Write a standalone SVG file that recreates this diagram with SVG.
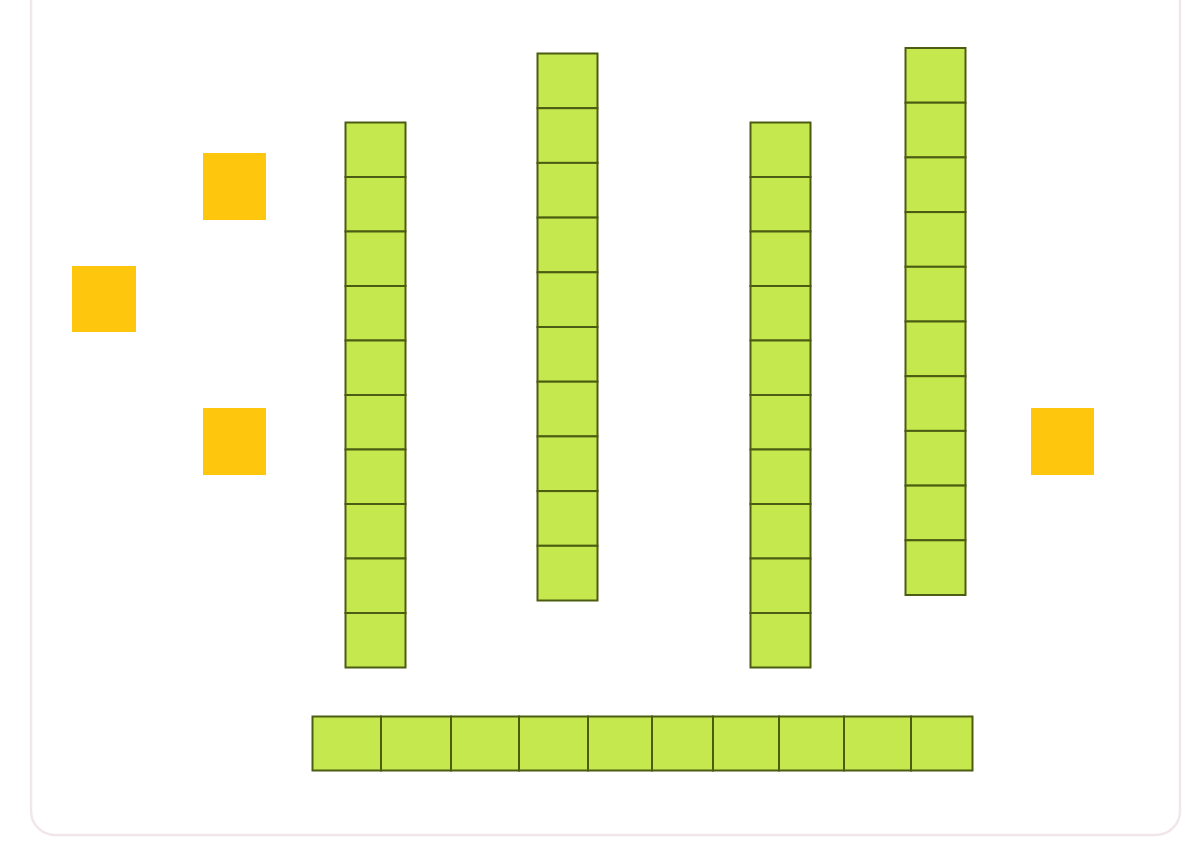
<svg xmlns="http://www.w3.org/2000/svg" width="1203" height="842" viewBox="0 0 1203 842">
<style>
.bg{fill:#ffffff;}
.frame{fill:#ffffff;stroke:#f1e6ec;stroke-width:2.5;}
.g rect{fill:#c6e84f;stroke:#4c5c12;stroke-width:2;}
.u{fill:#fec70d;}
</style>
<rect class="bg" x="0" y="0" width="1203" height="842"/>
<rect class="frame" x="31" y="-24" width="1149" height="859" rx="24"/>
<g id="unit-top" ><rect class="u" x="203" y="153" width="63" height="67"/></g>
<g id="unit-left"><rect class="u" x="72" y="266" width="64" height="66"/></g>
<g id="unit-lower"><rect class="u" x="203" y="408" width="63" height="67"/></g>
<g id="unit-right"><rect class="u" x="1031" y="408" width="63" height="67"/></g>
<g id="rod-1" class="g">
<rect x="345.5" y="122.5" width="60" height="54.5"/>
<rect x="345.5" y="177" width="60" height="54.5"/>
<rect x="345.5" y="231.5" width="60" height="54.5"/>
<rect x="345.5" y="286" width="60" height="54.5"/>
<rect x="345.5" y="340.5" width="60" height="54.5"/>
<rect x="345.5" y="395" width="60" height="54.5"/>
<rect x="345.5" y="449.5" width="60" height="54.5"/>
<rect x="345.5" y="504" width="60" height="54.5"/>
<rect x="345.5" y="558.5" width="60" height="54.5"/>
<rect x="345.5" y="613" width="60" height="54.5"/>
</g>
<g id="rod-2" class="g">
<rect x="537.5" y="53.5" width="60" height="54.7"/>
<rect x="537.5" y="108.2" width="60" height="54.7"/>
<rect x="537.5" y="162.9" width="60" height="54.7"/>
<rect x="537.5" y="217.6" width="60" height="54.7"/>
<rect x="537.5" y="272.3" width="60" height="54.7"/>
<rect x="537.5" y="327" width="60" height="54.7"/>
<rect x="537.5" y="381.7" width="60" height="54.7"/>
<rect x="537.5" y="436.4" width="60" height="54.7"/>
<rect x="537.5" y="491.1" width="60" height="54.7"/>
<rect x="537.5" y="545.8" width="60" height="54.7"/>
</g>
<g id="rod-3" class="g">
<rect x="750.5" y="122.5" width="60" height="54.5"/>
<rect x="750.5" y="177" width="60" height="54.5"/>
<rect x="750.5" y="231.5" width="60" height="54.5"/>
<rect x="750.5" y="286" width="60" height="54.5"/>
<rect x="750.5" y="340.5" width="60" height="54.5"/>
<rect x="750.5" y="395" width="60" height="54.5"/>
<rect x="750.5" y="449.5" width="60" height="54.5"/>
<rect x="750.5" y="504" width="60" height="54.5"/>
<rect x="750.5" y="558.5" width="60" height="54.5"/>
<rect x="750.5" y="613" width="60" height="54.5"/>
</g>
<g id="rod-4" class="g">
<rect x="905.5" y="48" width="60" height="54.7"/>
<rect x="905.5" y="102.7" width="60" height="54.7"/>
<rect x="905.5" y="157.4" width="60" height="54.7"/>
<rect x="905.5" y="212.1" width="60" height="54.7"/>
<rect x="905.5" y="266.8" width="60" height="54.7"/>
<rect x="905.5" y="321.5" width="60" height="54.7"/>
<rect x="905.5" y="376.2" width="60" height="54.7"/>
<rect x="905.5" y="430.9" width="60" height="54.7"/>
<rect x="905.5" y="485.6" width="60" height="54.7"/>
<rect x="905.5" y="540.3" width="60" height="54.7"/>
</g>
<g id="rod-horizontal" class="g">
<rect x="312.5" y="716.5" width="68.5" height="54"/>
<rect x="381" y="716.5" width="70" height="54"/>
<rect x="451" y="716.5" width="68" height="54"/>
<rect x="519" y="716.5" width="69" height="54"/>
<rect x="588" y="716.5" width="64" height="54"/>
<rect x="652" y="716.5" width="61" height="54"/>
<rect x="713" y="716.5" width="66" height="54"/>
<rect x="779" y="716.5" width="65" height="54"/>
<rect x="844" y="716.5" width="67" height="54"/>
<rect x="911" y="716.5" width="61.5" height="54"/>
</g>
<g id="connectors"></g>
</svg>
